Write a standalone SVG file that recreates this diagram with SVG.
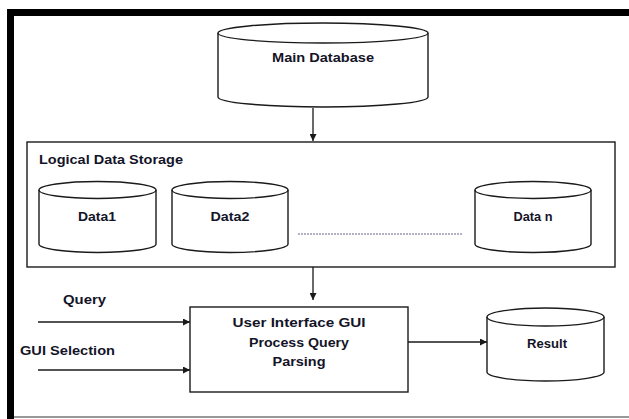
<svg xmlns="http://www.w3.org/2000/svg" width="629" height="419" viewBox="0 0 629 419">
  <style>
    .shape { fill: #ffffff; stroke: #1a1a1a; stroke-width: 1.4; }
    .edge { fill: none; stroke: #1a1a1a; stroke-width: 1.3; }
    .lbl { font-family: "Liberation Sans", Arial, sans-serif; font-weight: bold; font-size: 13px; fill: #141428; }
    .mid { text-anchor: middle; }
  </style>
  <defs>
    <marker id="arrow" viewBox="0 0 10 10" refX="10" refY="5" markerWidth="7" markerHeight="7" markerUnits="userSpaceOnUse" orient="auto">
      <path d="M0,0 L10,5 L0,10 Z" fill="#1a1a1a"/>
    </marker>
  </defs>

  <rect width="629" height="419" fill="#ffffff"/>

  <!-- page frame -->
  <g id="frame">
    <line x1="7" y1="12.5" x2="629" y2="12.5" stroke="#000" stroke-width="7"/>
    <line x1="10.5" y1="9" x2="10.5" y2="419" stroke="#000" stroke-width="7"/>
    <line x1="14" y1="417" x2="629" y2="417" stroke="#333" stroke-width="1.2"/>
  </g>

  <!-- main database -->
  <g id="main-db">
    <path class="shape" d="M218,33 A105,10 0 0 1 428,33 L428,97 A105,10 0 0 1 218,97 Z"/>
    <path class="edge" d="M218,33 A105,10 0 0 0 428,33"/>
    <text class="lbl mid" x="323" y="62" textLength="102" lengthAdjust="spacingAndGlyphs">Main Database</text>
  </g>

  <!-- logical data storage -->
  <g id="storage">
    <rect class="shape" x="27" y="142" width="588" height="125"/>
    <text class="lbl" x="39" y="164" textLength="144" lengthAdjust="spacingAndGlyphs">Logical Data Storage</text>
  </g>

  <g id="data1">
    <path class="shape" d="M39,190 A58.5,8.5 0 0 1 156,190 L156,244 A58.5,8.5 0 0 1 39,244 Z"/>
    <path class="edge" d="M39,190 A58.5,8.5 0 0 0 156,190"/>
    <text class="lbl mid" x="97" y="221" textLength="38" lengthAdjust="spacingAndGlyphs">Data1</text>
  </g>

  <g id="data2">
    <path class="shape" d="M172,190 A58,8.5 0 0 1 288,190 L288,244 A58,8.5 0 0 1 172,244 Z"/>
    <path class="edge" d="M172,190 A58,8.5 0 0 0 288,190"/>
    <text class="lbl mid" x="230" y="221" textLength="39" lengthAdjust="spacingAndGlyphs">Data2</text>
  </g>

  <g id="datan">
    <path class="shape" d="M475,190 A58,8.5 0 0 1 591,190 L591,244 A58,8.5 0 0 1 475,244 Z"/>
    <path class="edge" d="M475,190 A58,8.5 0 0 0 591,190"/>
    <text class="lbl mid" x="533" y="221" textLength="39" lengthAdjust="spacingAndGlyphs">Data n</text>
  </g>

  <!-- user interface processing box -->
  <g id="ui">
    <rect class="shape" x="190" y="307" width="218" height="85"/>
    <text class="lbl mid" x="299" y="327" textLength="133" lengthAdjust="spacingAndGlyphs">User Interface GUI</text>
    <text class="lbl mid" x="299" y="347" textLength="100" lengthAdjust="spacingAndGlyphs">Process Query</text>
    <text class="lbl mid" x="299" y="366" textLength="53" lengthAdjust="spacingAndGlyphs">Parsing</text>
  </g>

  <!-- result store -->
  <g id="result">
    <path class="shape" d="M487,317 A58.5,9 0 0 1 604,317 L604,372 A58.5,9 0 0 1 487,372 Z"/>
    <path class="edge" d="M487,317 A58.5,9 0 0 0 604,317"/>
    <text class="lbl mid" x="547" y="348" textLength="40" lengthAdjust="spacingAndGlyphs">Result</text>
  </g>

  <!-- inputs -->
  <g id="inputs">
    <text class="lbl" x="63" y="304" textLength="43" lengthAdjust="spacingAndGlyphs">Query</text>
    <text class="lbl" x="20" y="355" textLength="95" lengthAdjust="spacingAndGlyphs">GUI Selection</text>
  </g>

  <!-- connectors -->
  <g id="connectors">
    <line class="edge" x1="313" y1="108" x2="313" y2="141" marker-end="url(#arrow)"/>
    <line class="edge" x1="313" y1="267" x2="313" y2="300" marker-end="url(#arrow)"/>
    <line class="edge" x1="38" y1="322" x2="190" y2="322" marker-end="url(#arrow)"/>
    <line class="edge" x1="38" y1="370" x2="190" y2="370" marker-end="url(#arrow)"/>
    <line class="edge" x1="408" y1="342" x2="487" y2="342" marker-end="url(#arrow)"/>
    <line x1="298" y1="234" x2="462" y2="234" stroke="#666688" stroke-width="1" stroke-dasharray="2,1"/>
  </g>
</svg>
